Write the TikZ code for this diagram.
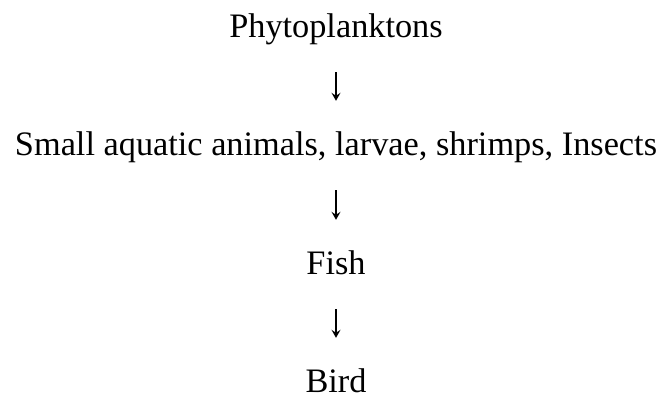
\documentclass[tikz,border=0pt]{standalone}
\usepackage{fontspec}
\setmainfont{Liberation Serif}
\usetikzlibrary{arrows.meta}
\begin{document}
\begin{tikzpicture}[x=1pt,y=1pt,
  level/.style={anchor=base,inner sep=0pt,text height=24pt,text depth=0pt,
    font=\fontsize{34.3}{41}\selectfont},
  feeds/.style={-{Stealth[length=8pt,width=9pt,inset=3pt]},line width=1.2pt,
    shorten <=35pt,shorten >=30pt}]
  \useasboundingbox (0,0) rectangle (663,-399);
  % levels of the chain
  \node[level] (phyto) at (336,-37)  {Phytoplanktons};
  \node[level] (small) at (336,-155) {Small aquatic animals, larvae, shrimps, Insects};
  \node[level] (fish)  at (336,-274) {Fish};
  \node[level] (bird)  at (336,-392) {Bird};
  % who eats whom
  \draw[feeds] (phyto) -- (small);
  \draw[feeds] (small) -- (fish);
  \draw[feeds] (fish) -- (bird);
\end{tikzpicture}
\end{document}
